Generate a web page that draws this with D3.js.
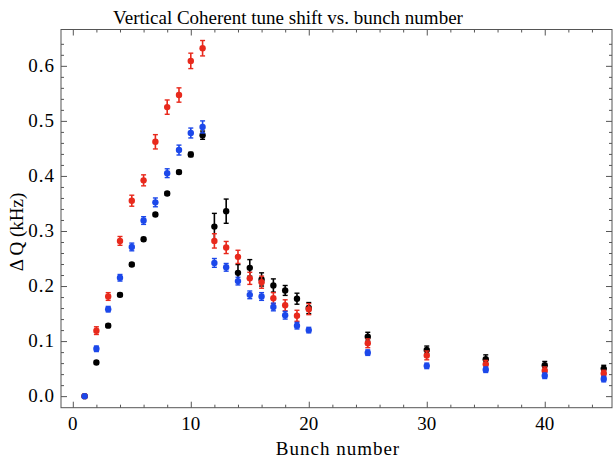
<!DOCTYPE html>
<html>
<head>
<meta charset="utf-8">
<script src="https://cdn.jsdelivr.net/npm/d3@7"></script>
<style>
  body { margin: 0; background: #fff; }
  text { font-family: "Liberation Serif", "DejaVu Serif", serif; }
</style>
</head>
<body>
<script>
// bunch numbers
const bunches = [1,2,3,4,5,6,7,8,9,10,11,12,13,14,15,16,17,18,19,20,25,30,35,40,45];

// tune shift (kHz) and error per series
const blackVals = [0,0.061,0.128,0.184,0.239,0.285,0.330,0.368,0.407,0.439,0.474,0.308,0.336,0.224,0.233,0.212,0.201,0.192,0.177,0.160,0.108,0.084,0.067,0.056,0.050];
const blackErr  = [0,0.003,0.003,0.003,0.003,0.003,0.003,0.003,0.003,0.004,0.0075,0.024,0.022,0.015,0.015,0.012,0.012,0.009,0.010,0.010,0.008,0.007,0.008,0.007,0.006];

const redVals = [0,0.119,0.181,0.282,0.355,0.392,0.462,0.525,0.547,0.609,0.632,0.282,0.270,0.253,0.214,0.207,0.178,0.165,0.146,0.158,0.096,0.074,0.058,0.046,0.041];
const redErr  = [0,0.007,0.007,0.008,0.010,0.010,0.013,0.013,0.013,0.014,0.014,0.013,0.011,0.012,0.011,0.011,0.010,0.010,0.010,0.010,0.008,0.008,0.007,0.007,0.006];

const blueVals = [0,0.086,0.158,0.215,0.271,0.319,0.352,0.405,0.447,0.478,0.489,0.242,0.234,0.209,0.184,0.181,0.162,0.147,0.128,0.120,0.079,0.055,0.048,0.037,0.031];
const blueErr  = [0,0.005,0.005,0.006,0.007,0.007,0.008,0.008,0.009,0.009,0.011,0.008,0.007,0.007,0.007,0.007,0.007,0.007,0.006,0.005,0.005,0.005,0.005,0.005,0.005];

const xTicks = [0,10,20,30,40];
const yTicks = [0.0,0.1,0.2,0.3,0.4,0.5,0.6];

const width = 613, height = 461;

const svg = d3.select('body').append('svg')
  .attr('width', width)
  .attr('height', height);

const x = d3.scaleLinear().domain([-1, 45.7]).range([61, 612]);
const y = d3.scaleLinear().domain([-0.021, 0.666]).range([407.7, 29.5]);

const frameColor = '#555';

// frame
svg.append('rect')
  .attr('x', x(-1)).attr('y', y(0.666))
  .attr('width', x(45.7) - x(-1)).attr('height', y(-0.021) - y(0.666))
  .attr('fill', 'none').attr('stroke', frameColor).attr('stroke-width', 1);

// ticks (inward, all four sides)
const xMinor = d3.range(0, 46, 2).filter(d => d % 10 !== 0);
const yMinor = d3.range(0, 0.66, 0.02).filter(d => Math.abs(Math.round(d * 10) - d * 10) > 1e-6);

const axisB = d3.axisBottom(x).tickValues(xTicks).tickSize(-6).tickFormat('');
const axisBm = d3.axisBottom(x).tickValues(xMinor).tickSize(-3).tickFormat('');
const axisT = d3.axisTop(x).tickValues(xTicks).tickSize(-6).tickFormat('');
const axisTm = d3.axisTop(x).tickValues(xMinor).tickSize(-3).tickFormat('');
const axisL = d3.axisLeft(y).tickValues(yTicks).tickSize(-6).tickFormat('');
const axisLm = d3.axisLeft(y).tickValues(yMinor).tickSize(-3).tickFormat('');
const axisR = d3.axisRight(y).tickValues(yTicks).tickSize(-6).tickFormat('');
const axisRm = d3.axisRight(y).tickValues(yMinor).tickSize(-3).tickFormat('');

[[axisB, `translate(0,${y(-0.021)})`], [axisBm, `translate(0,${y(-0.021)})`],
 [axisT, `translate(0,${y(0.666)})`], [axisTm, `translate(0,${y(0.666)})`],
 [axisL, `translate(${x(-1)},0)`], [axisLm, `translate(${x(-1)},0)`],
 [axisR, `translate(${x(45.7)},0)`], [axisRm, `translate(${x(45.7)},0)`]].forEach(([ax, tr]) => {
  const g = svg.append('g').attr('transform', tr).call(ax);
  g.select('.domain').remove();
  g.selectAll('line').attr('stroke', frameColor);
});

// tick labels
svg.append('g').selectAll('text')
  .data(xTicks).enter().append('text')
  .attr('x', d => x(d)).attr('y', 430)
  .attr('text-anchor', 'middle')
  .style('font-size', '19px')
  .text(d => d);

svg.append('g').selectAll('text')
  .data(yTicks).enter().append('text')
  .attr('x', 55).attr('y', d => y(d) + 6)
  .attr('text-anchor', 'end')
  .style('font-size', '19px')
  .style('letter-spacing', '1px')
  .text(d => d.toFixed(1));

// titles
svg.append('text')
  .attr('x', 288).attr('y', 24)
  .attr('text-anchor', 'middle')
  .style('font-size', '19px')
  .text('Vertical Coherent tune shift vs. bunch number');

svg.append('text')
  .attr('x', 338).attr('y', 455)
  .attr('text-anchor', 'middle')
  .style('font-size', '19px')
  .style('letter-spacing', '1px')
  .text('Bunch number');

svg.append('text')
  .attr('transform', 'translate(23,232) rotate(-90)')
  .attr('text-anchor', 'middle')
  .style('font-size', '19px')
  .text('Δ Q (kHz)');

// series
const series = [
  { vals: blackVals, err: blackErr, color: '#000000' },
  { vals: redVals, err: redErr, color: '#e8291c' },
  { vals: blueVals, err: blueErr, color: '#1c48ea' }
];

series.forEach(s => {
  const pts = bunches.map((b, i) => ({ b: b, v: s.vals[i], e: s.err[i] }));
  const g = svg.append('g');

  const eb = g.selectAll('g.eb').data(pts.filter(d => d.e > 0)).enter().append('g');
  eb.append('line')
    .attr('x1', d => x(d.b)).attr('x2', d => x(d.b))
    .attr('y1', d => y(d.v - d.e)).attr('y2', d => y(d.v + d.e))
    .attr('stroke', s.color).attr('stroke-width', 1.6);
  eb.append('line')
    .attr('x1', d => x(d.b) - 2.5).attr('x2', d => x(d.b) + 2.5)
    .attr('y1', d => y(d.v + d.e)).attr('y2', d => y(d.v + d.e))
    .attr('stroke', s.color).attr('stroke-width', 1.4);
  eb.append('line')
    .attr('x1', d => x(d.b) - 2.5).attr('x2', d => x(d.b) + 2.5)
    .attr('y1', d => y(d.v - d.e)).attr('y2', d => y(d.v - d.e))
    .attr('stroke', s.color).attr('stroke-width', 1.4);

  g.selectAll('circle').data(pts).enter().append('circle')
    .attr('cx', d => x(d.b)).attr('cy', d => y(d.v))
    .attr('r', 3.2)
    .style('fill', s.color);
});
</script>
</body>
</html>
